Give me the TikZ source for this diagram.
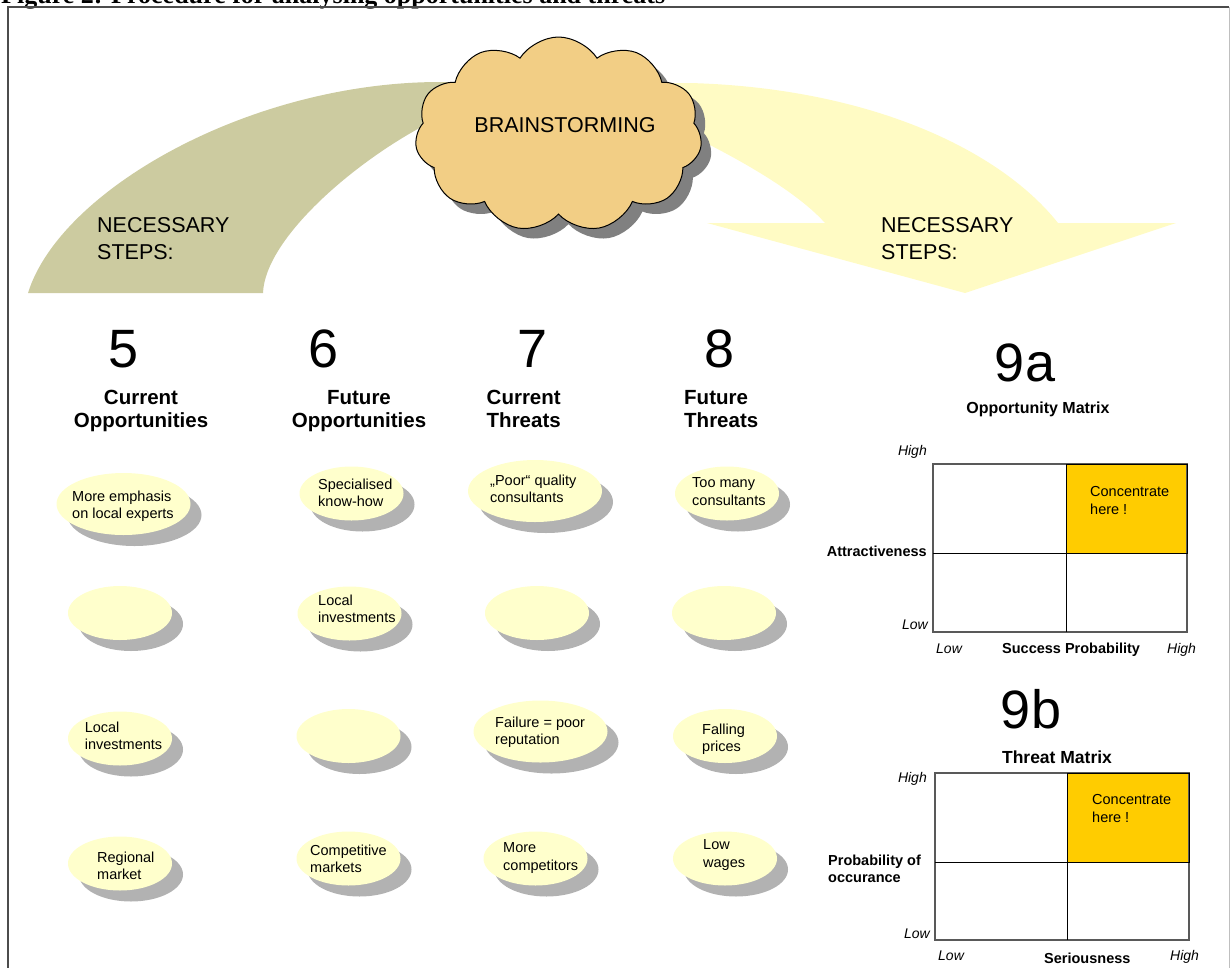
\documentclass[tikz,border=0pt]{standalone}
\usepackage{fontspec}
\setmainfont{Liberation Sans}
\newfontfamily\titlefont{Liberation Serif}
\usetikzlibrary{shapes.geometric,shapes.symbols,shadows}
\definecolor{bandolive}{RGB}{204,203,160}
\definecolor{arrowyellow}{RGB}{255,251,196}
\definecolor{cloudorange}{RGB}{242,206,133}
\definecolor{ideayellow}{RGB}{255,255,204}
\definecolor{ideashadow}{RGB}{178,178,178}
\definecolor{hotcell}{RGB}{255,204,0}
\tikzset{
idea/.style={ellipse, fill=ideayellow, inner sep=0pt, minimum width=104pt, minimum height=54pt,
  drop shadow={shadow xshift=11pt, shadow yshift=-11pt, fill=ideashadow, opacity=1}},
bigidea/.style={idea, minimum width=134pt, minimum height=62pt},
ideatext/.style={anchor=north west, align=left, inner sep=0pt, font=\fontsize{14.5}{17.5}\selectfont},
stepno/.style={anchor=base, inner sep=0pt, font=\fontsize{54}{60}\selectfont},
heading/.style={inner sep=0pt, font=\bfseries\fontsize{20.5}{23}\selectfont},
steps/.style={anchor=north west, align=left, inner sep=0pt, font=\fontsize{21.5}{27}\selectfont},
level/.style={inner sep=0pt, font=\itshape\fontsize{14}{17}\selectfont},
axisname/.style={inner sep=0pt, font=\bfseries\fontsize{14.5}{17.5}\selectfont},
matrixtitle/.style={anchor=base, inner sep=0pt, font=\bfseries\fontsize{16}{19}\selectfont},
hint/.style={anchor=north west, align=left, inner sep=0pt, font=\fontsize{14.5}{17.5}\selectfont},
outer/.style={draw=black!65, line width=1.3pt},
divider/.style={draw=black, line width=1pt}
}
\begin{document}
\begin{tikzpicture}[x=1pt,y=-1pt]
\useasboundingbox (0,0) rectangle (1232,967);
\node[anchor=base west, inner sep=0pt, font=\titlefont\bfseries\fontsize{26}{30}\selectfont] (title) at (1,3.5) {Figure 2: Procedure for analysing opportunities and threats};
\draw[black!70, line width=1.3pt] (8,990) -- (8,7) -- (1229,7);
\draw[black!25, line width=1pt] (1229,7) -- (1229,990);
\fill[bandolive] (28,293) .. controls (60,190) and (250,82) .. (440,82) -- (490,82) -- (490,125) -- (425,125) .. controls (350,165) and (265,240) .. (263,293) -- cycle;
\fill[arrowyellow] (660,83) -- (690,83) .. controls (870,88) and (1000,150) .. (1058,223) -- (1176,223) -- (965,293) -- (707,223) -- (825,223) .. controls (800,195) and (750,165) .. (700,140) -- (660,140) -- cycle;
\node[cloud, cloud puffs=11, cloud puff arc=115, aspect=1.5, draw=black, line width=1pt, fill=cloudorange, inner sep=0pt, minimum width=287pt, minimum height=195pt,
  drop shadow={shadow xshift=10pt, shadow yshift=-10pt, fill=black!50, opacity=1}] (cloud) at (558.5,134.5) {};
\node[inner sep=0pt, font=\fontsize{21.5}{26}\selectfont] (brain) at (565,125) {BRAINSTORMING};
\node[steps] (stepsl) at (97,217.3) {NECESSARY\\STEPS:};
\node[steps] (stepsr) at (881,217.3) {NECESSARY\\STEPS:};
\node[stepno] (n5) at (124,367) {5};
\node[stepno] (n6) at (324,367) {6};
\node[stepno] (n7) at (533,367) {7};
\node[stepno] (n8) at (720,367) {8};
\node[stepno] (n9a) at (1025,381) {9a};
\node[stepno] (n9b) at (1031,728) {9b};
\node[heading, anchor=north, align=center] (h5) at (141,390) {Current\\Opportunities};
\node[heading, anchor=north, align=center] (h6) at (359,390) {Future\\Opportunities};
\node[heading, anchor=north west, align=left] (h7) at (486.5,390) {Current\\Threats};
\node[heading, anchor=north west, align=left] (h8) at (684,390) {Future\\Threats};
\node[bigidea] (o5a) at (123.5,504) {};
\node[idea] (o6a) at (351.5,493.5) {};
\node[bigidea] (t7a) at (535,491) {};
\node[idea] (t8a) at (727,493.5) {};
\node[idea] (o5b) at (120,613) {};
\node[idea] (o6b) at (349.5,613.5) {};
\node[idea] (t7b) at (537,613) {};
\node[idea] (t8b) at (724,613) {};
\node[idea] (o5c) at (120,738.5) {};
\node[idea] (o6c) at (348.5,736) {};
\node[bigidea] (t7c) at (540.5,731.5) {};
\node[idea] (t8c) at (725,736) {};
\node[idea] (o5d) at (120,863.5) {};
\node[idea] (o6d) at (348.5,858.5) {};
\node[idea] (t7d) at (535.5,858.5) {};
\node[idea] (t8d) at (725,858.5) {};
\node[ideatext] at (72,490.4) {More emphasis\\on local experts};
\node[ideatext] at (318,478.4) {Specialised\\know-how};
\node[ideatext] at (490,474.4) {„Poor“ quality\\consultants};
\node[ideatext] at (692,477.4) {Too many\\consultants};
\node[ideatext] at (318,594.4) {Local\\investments};
\node[ideatext] at (84.6,721.4) {Local\\investments};
\node[ideatext] at (495,716.4) {Failure = poor\\reputation};
\node[ideatext] at (702,723.4) {Falling\\prices};
\node[ideatext] at (97,851.4) {Regional\\market};
\node[ideatext] at (310,844.4) {Competitive\\markets};
\node[ideatext] at (503,842.4) {More\\competitors};
\node[ideatext] at (703,839.4) {Low\\wages};
\node[matrixtitle] (omtitle) at (1038,413) {Opportunity Matrix};
\fill[hotcell] (1066,464) rectangle (1187,553);
\draw[outer] (933,464) rectangle (1187,632);
\draw[divider] (1066,464) -- (1066,632);
\draw[divider] (933,553) -- (1187,553);
\draw[divider] (1066,464) rectangle (1187,553);
\node[hint] (omhint) at (1090,486.4) {Concentrate\\here !};
\node[level, anchor=base east] (omhigh) at (927,455) {High};
\node[axisname, anchor=base east] (omy) at (927,556) {Attractiveness};
\node[level, anchor=base east] (omlow) at (928,629) {Low};
\node[level, anchor=base west] (omlowx) at (936,653) {Low};
\node[axisname, anchor=base west] (omx) at (1002,653) {Success Probability};
\node[level, anchor=base west] (omhighx) at (1167,653) {High};
\node[matrixtitle, font=\bfseries\fontsize{17.5}{20}\selectfont] (tmtitle) at (1057,763) {Threat Matrix};
\fill[hotcell] (1067,773) rectangle (1189,862);
\draw[outer] (935,773) rectangle (1189,940);
\draw[divider] (1067,773) -- (1067,940);
\draw[divider] (935,862) -- (1189,862);
\draw[divider] (1067,773) rectangle (1189,862);
\node[hint] (tmhint) at (1092,794.4) {Concentrate\\here !};
\node[level, anchor=base east] (tmhigh) at (927,782) {High};
\node[axisname, anchor=north west, align=left] (tmy) at (828,854.4) {Probability of\\occurance};
\node[level, anchor=base east] (tmlow) at (930,938) {Low};
\node[level, anchor=base west] (tmlowx) at (938,960) {Low};
\node[axisname, anchor=base west] (tmx) at (1044,963) {Seriousness};
\node[level, anchor=base west] (tmhighx) at (1170,960) {High};
\end{tikzpicture}
\end{document}
